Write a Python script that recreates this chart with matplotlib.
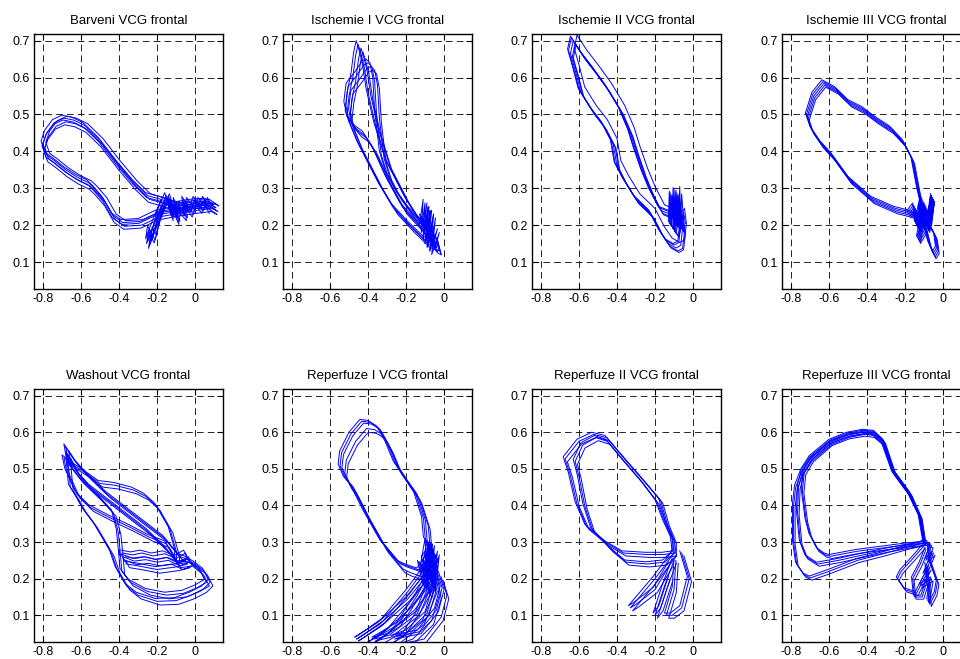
import numpy as np
import matplotlib
matplotlib.use("Agg")
import matplotlib.pyplot as plt

plt.rcParams["font.family"] = ["Liberation Sans", "DejaVu Sans"]

titles = ["Barveni VCG frontal", "Ischemie I VCG frontal", "Ischemie II VCG frontal",
          "Ischemie III VCG frontal", "Washout VCG frontal", "Reperfuze I VCG frontal",
          "Reperfuze II VCG frontal", "Reperfuze III VCG frontal"]

x_ticks = [-0.8, -0.6, -0.4, -0.2, 0]
x_labels = ["-0.8", "-0.6", "-0.4", "-0.2", "0"]
y_ticks = [0.1, 0.2, 0.3, 0.4, 0.5, 0.6, 0.7]
y_labels = ["0.1", "0.2", "0.3", "0.4", "0.5", "0.6", "0.7"]

# --- Barveni ---
bar_x = [-0.10, -0.18, -0.25, -0.32, -0.41, -0.50, -0.58, -0.64, -0.69, -0.74, -0.78, -0.80, -0.78, -0.74, -0.68,
         -0.62, -0.56, -0.53, -0.48, -0.43, -0.38, -0.29, -0.20, -0.10, 0.00, 0.08, 0.11, 0.06, -0.02, -0.10]
bar_y = [0.255, 0.27, 0.28, 0.315, 0.37, 0.43, 0.47, 0.485, 0.49, 0.478, 0.45, 0.42, 0.39, 0.375, 0.35,
         0.33, 0.315, 0.30, 0.27, 0.225, 0.207, 0.21, 0.232, 0.242, 0.25, 0.255, 0.247, 0.265, 0.262, 0.255]
bar_tail_x = [-0.17, -0.21, -0.25, -0.24, -0.22, -0.19, -0.15, -0.12, -0.13, -0.09, -0.10, -0.05, -0.06, -0.02, 0.00, 0.03, 0.05, 0.07]
bar_tail_y = [0.26, 0.21, 0.155, 0.19, 0.17, 0.23, 0.28, 0.23, 0.27, 0.22, 0.26, 0.23, 0.27, 0.24, 0.27, 0.25, 0.27, 0.25]
bar_dx = [0, 0.01, -0.01, 0.005, 0.015, -0.005]
bar_dy = [0, -0.01, 0.008, -0.018, 0.005, -0.005]

# --- Ischemie I ---
isc1_ax = [-0.10, -0.18, -0.25, -0.30, -0.33, -0.355, -0.365, -0.38, -0.40, -0.42, -0.46, -0.505,
           -0.517, -0.50, -0.46, -0.42, -0.37, -0.30, -0.22, -0.13, -0.06, -0.04, -0.06, -0.10]
isc1_ay = [0.20, 0.24, 0.29, 0.34, 0.39, 0.50, 0.59, 0.63, 0.64, 0.635, 0.605, 0.575,
           0.525, 0.485, 0.46, 0.445, 0.405, 0.325, 0.25, 0.20, 0.145, 0.14, 0.18, 0.20]
isc1_bx = [-0.06, -0.10, -0.20, -0.30, -0.36, -0.40, -0.42, -0.44, -0.452, -0.465, -0.48, -0.50, -0.51,
           -0.49, -0.45, -0.40, -0.34, -0.27, -0.18, -0.10, -0.06]
isc1_by = [0.15, 0.19, 0.27, 0.37, 0.47, 0.56, 0.63, 0.67, 0.69, 0.66, 0.60, 0.55, 0.50,
           0.47, 0.42, 0.37, 0.31, 0.25, 0.20, 0.16, 0.15]
isc1_cl_x = [-0.12, -0.10, -0.11, -0.08, -0.10, -0.07, -0.09, -0.05, -0.07, -0.12, -0.06, -0.04]
isc1_cl_y = [0.19, 0.26, 0.17, 0.25, 0.15, 0.24, 0.14, 0.20, 0.16, 0.22, 0.18, 0.14]
isc1_dx = [0, 0.015, -0.01, 0.025]
isc1_dy = [0, -0.01, 0.01, -0.02]

# --- Ischemie II ---
isc2_x = [-0.08, -0.10, -0.17, -0.22, -0.26, -0.30, -0.33, -0.38, -0.45, -0.52, -0.58, -0.63, -0.645, -0.62, -0.59,
          -0.53, -0.47, -0.42, -0.40, -0.36, -0.30, -0.22, -0.17, -0.13, -0.09, -0.065, -0.055, -0.065, -0.08]
isc2_y = [0.22, 0.225, 0.24, 0.29, 0.34, 0.40, 0.45, 0.51, 0.57, 0.62, 0.66, 0.70, 0.665, 0.62, 0.56,
          0.51, 0.47, 0.42, 0.36, 0.32, 0.27, 0.23, 0.18, 0.15, 0.138, 0.145, 0.19, 0.23, 0.22]
isc2_hook_x = [-0.07, -0.08, -0.085, -0.09, -0.095, -0.10, -0.105, -0.11, -0.115, -0.09, -0.07, -0.06]
isc2_hook_y = [0.20, 0.27, 0.20, 0.29, 0.21, 0.27, 0.19, 0.28, 0.20, 0.18, 0.22, 0.19]
isc2_dx = [0, -0.01, 0.01, -0.015, 0.015, 0.02]
isc2_dy = [0, 0.008, -0.008, 0.012, -0.012, 0.015]

# --- Ischemie III ---
isc3_x = [-0.13, -0.12, -0.14, -0.17, -0.215, -0.28, -0.36, -0.43, -0.50, -0.57, -0.637, -0.69, -0.724,
          -0.70, -0.65, -0.59, -0.50, -0.38, -0.26, -0.19, -0.13]
isc3_y = [0.23, 0.26, 0.305, 0.387, 0.432, 0.468, 0.495, 0.522, 0.54, 0.575, 0.594, 0.56, 0.504,
          0.468, 0.43, 0.396, 0.332, 0.278, 0.251, 0.242, 0.23]
isc3_lobe_x = [-0.13, -0.10, -0.07, -0.05, -0.04, -0.057, -0.083, -0.10, -0.12]
isc3_lobe_y = [0.23, 0.22, 0.20, 0.18, 0.143, 0.129, 0.161, 0.197, 0.23]
isc3_cl_x = [-0.19, -0.16, -0.15, -0.12, -0.14, -0.10, -0.09, -0.065, -0.08, -0.14, -0.11]
isc3_cl_y = [0.24, 0.26, 0.21, 0.28, 0.20, 0.26, 0.20, 0.285, 0.22, 0.17, 0.25]
isc3_dx = [0, 0.01, 0.02, 0.005, 0.015]
isc3_dy = [0, -0.01, -0.02, -0.005, -0.015]

# --- Washout ---
wash_ax = [-0.10, -0.096, -0.131, -0.20, -0.26, -0.324, -0.42, -0.50, -0.58, -0.64, -0.69, -0.675, -0.62,
           -0.55, -0.45, -0.34, -0.24, -0.15, -0.10]
wash_ay = [0.25, 0.27, 0.334, 0.397, 0.425, 0.442, 0.455, 0.46, 0.49, 0.51, 0.53, 0.493, 0.43,
           0.394, 0.367, 0.34, 0.313, 0.295, 0.25]
wash_bx = [-0.08, -0.16, -0.26, -0.36, -0.46, -0.56, -0.63, -0.68, -0.67, -0.656, -0.62, -0.586, -0.53, -0.481,
           -0.44, -0.411, -0.36, -0.30, -0.20, -0.10, -0.02, 0.044, 0.079, 0.05, 0.0, -0.05, -0.08]
wash_by = [0.26, 0.31, 0.35, 0.39, 0.43, 0.48, 0.52, 0.56, 0.53, 0.45, 0.42, 0.388, 0.35, 0.307,
           0.27, 0.226, 0.18, 0.155, 0.138, 0.14, 0.155, 0.172, 0.19, 0.22, 0.24, 0.255, 0.26]
wash_cx = [-0.09, -0.15, -0.25, -0.35, -0.45, -0.55, -0.62, -0.67, -0.66, -0.60, -0.50, -0.43, -0.405, -0.395,
           -0.385, -0.34, -0.25, -0.15, -0.06, 0.01, 0.06, 0.03, -0.03, -0.09]
wash_cy = [0.24, 0.28, 0.33, 0.37, 0.41, 0.45, 0.49, 0.54, 0.51, 0.47, 0.42, 0.38, 0.33, 0.28,
           0.22, 0.19, 0.165, 0.155, 0.16, 0.175, 0.19, 0.22, 0.245, 0.24]
wash_band_x = [-0.38, -0.33, -0.28, -0.22, -0.16, -0.10, -0.05, -0.03, -0.08, -0.14, -0.20, -0.26, -0.32, -0.38,
               -0.36, -0.30, -0.20, -0.10, -0.04]
wash_band_y = [0.27, 0.265, 0.27, 0.262, 0.268, 0.255, 0.27, 0.245, 0.235, 0.25, 0.245, 0.252, 0.248, 0.26,
               0.24, 0.235, 0.225, 0.232, 0.24]
wash_dx = [0, 0.015, -0.01]
wash_dy = [0, -0.01, 0.008]

# --- Reperfuze I ---
rep1_x = [-0.10, -0.083, -0.109, -0.118, -0.162, -0.215, -0.268, -0.31, -0.355, -0.40, -0.443, -0.50, -0.549,
          -0.557, -0.53, -0.496, -0.426, -0.338, -0.25, -0.215, -0.144, -0.10]
rep1_y = [0.26, 0.288, 0.315, 0.369, 0.441, 0.48, 0.522, 0.575, 0.617, 0.632, 0.635, 0.60, 0.549,
          0.513, 0.48, 0.459, 0.387, 0.306, 0.251, 0.242, 0.229, 0.26]
rep1_l1x = [-0.09, -0.20, -0.35, -0.47, -0.44, -0.33, -0.20, -0.10]
rep1_l1y = [0.22, 0.15, 0.08, 0.04, 0.05, 0.09, 0.17, 0.24]
rep1_l2x = [-0.09, -0.15, -0.25, -0.38, -0.30, -0.15, -0.08]
rep1_l2y = [0.22, 0.16, 0.08, 0.04, 0.05, 0.11, 0.20]
rep1_l3x = [-0.08, -0.06, -0.10, -0.20, -0.28, -0.14, -0.05, -0.02, -0.05]
rep1_l3y = [0.24, 0.18, 0.11, 0.06, 0.045, 0.06, 0.12, 0.18, 0.23]
rep1_cl_x = [-0.13, -0.10, -0.09, -0.07, -0.10, -0.08, -0.12, -0.09, -0.14, -0.11, -0.08]
rep1_cl_y = [0.22, 0.31, 0.20, 0.30, 0.24, 0.29, 0.26, 0.21, 0.25, 0.18, 0.27]
rep1_dx = [0, 0.02, 0.035, 0.01, 0.045]
rep1_dy = [0, -0.01, -0.025, -0.005, -0.035]

# --- Reperfuze II ---
rep2_ax = [-0.10, -0.10, -0.136, -0.171, -0.259, -0.365, -0.453, -0.523, -0.60, -0.673, -0.647, -0.611, -0.559,
           -0.453, -0.365, -0.241, -0.153, -0.10]
rep2_ay = [0.27, 0.306, 0.351, 0.414, 0.468, 0.531, 0.585, 0.594, 0.575, 0.527, 0.486, 0.405, 0.342,
           0.297, 0.27, 0.266, 0.266, 0.27]
rep2_bx = [-0.10, -0.11, -0.15, -0.19, -0.27, -0.37, -0.45, -0.51, -0.58, -0.62, -0.60, -0.57, -0.53,
           -0.43, -0.35, -0.24, -0.15, -0.10]
rep2_by = [0.27, 0.31, 0.355, 0.41, 0.465, 0.525, 0.575, 0.585, 0.565, 0.52, 0.48, 0.40, 0.335,
           0.28, 0.245, 0.24, 0.245, 0.27]
rep2_l1x = [-0.10, -0.20, -0.33, -0.30, -0.20, -0.12]
rep2_l1y = [0.27, 0.20, 0.12, 0.13, 0.17, 0.24]
rep2_l2x = [-0.10, -0.15, -0.20, -0.17, -0.12]
rep2_l2y = [0.25, 0.18, 0.10, 0.12, 0.20]
rep2_l3x = [-0.09, -0.10, -0.14, -0.11, -0.06, -0.02, -0.06]
rep2_l3y = [0.25, 0.17, 0.10, 0.10, 0.12, 0.20, 0.27]
rep2_dx = [0, 0.012, -0.01]
rep2_dy = [0, -0.008, 0.006]

# --- Reperfuze III ---
rep3_ax = [-0.10, -0.10, -0.118, -0.171, -0.259, -0.311, -0.36, -0.417, -0.50, -0.593, -0.698, -0.742, -0.775,
           -0.786, -0.786, -0.77, -0.73, -0.698, -0.60, -0.45, -0.30, -0.20, -0.10]
rep3_ay = [0.297, 0.306, 0.369, 0.432, 0.495, 0.576, 0.600, 0.603, 0.595, 0.576, 0.531, 0.495, 0.45,
           0.40, 0.30, 0.24, 0.21, 0.202, 0.22, 0.25, 0.27, 0.285, 0.297]
rep3_bx = [-0.10, -0.105, -0.125, -0.18, -0.265, -0.32, -0.37, -0.42, -0.50, -0.59, -0.69, -0.73, -0.74,
           -0.72, -0.70, -0.66, -0.62, -0.593, -0.45, -0.30, -0.20, -0.10]
rep3_by = [0.297, 0.31, 0.37, 0.43, 0.49, 0.57, 0.592, 0.595, 0.588, 0.57, 0.525, 0.49, 0.44,
           0.36, 0.32, 0.28, 0.265, 0.261, 0.275, 0.285, 0.292, 0.297]
rep3_cx = [-0.10, -0.10, -0.12, -0.175, -0.26, -0.315, -0.365, -0.42, -0.50, -0.59, -0.695, -0.74, -0.76,
           -0.765, -0.75, -0.72, -0.66, -0.55, -0.42, -0.30, -0.20, -0.10]
rep3_cy = [0.297, 0.306, 0.37, 0.43, 0.493, 0.575, 0.598, 0.600, 0.592, 0.573, 0.528, 0.493, 0.45,
           0.38, 0.30, 0.26, 0.24, 0.25, 0.265, 0.278, 0.288, 0.297]
rep3_l1x = [-0.10, -0.15, -0.22, -0.24, -0.20, -0.14, -0.10]
rep3_l1y = [0.29, 0.26, 0.22, 0.20, 0.17, 0.16, 0.20]
rep3_l2x = [-0.09, -0.12, -0.16, -0.15, -0.11, -0.08]
rep3_l2y = [0.28, 0.24, 0.20, 0.15, 0.15, 0.20]
rep3_l3x = [-0.08, -0.07, -0.05, -0.03, -0.04, -0.07, -0.075, -0.09]
rep3_l3y = [0.30, 0.25, 0.22, 0.19, 0.16, 0.13, 0.17, 0.24]
rep3_cl_x = [-0.11, -0.06, -0.09, -0.05, -0.10, -0.07, -0.12, -0.06, -0.08]
rep3_cl_y = [0.30, 0.29, 0.25, 0.27, 0.21, 0.23, 0.18, 0.20, 0.14]
rep3_dx = [0, 0.008, -0.006]
rep3_dy = [0, -0.006, 0.005]

panels = [
    ([(bar_x, bar_y), (bar_tail_x, bar_tail_y)], bar_dx, bar_dy),
    ([(isc1_ax, isc1_ay), (isc1_bx, isc1_by), (isc1_cl_x, isc1_cl_y)], isc1_dx, isc1_dy),
    ([(isc2_x, isc2_y), (isc2_hook_x, isc2_hook_y)], isc2_dx, isc2_dy),
    ([(isc3_x, isc3_y), (isc3_lobe_x, isc3_lobe_y), (isc3_cl_x, isc3_cl_y)], isc3_dx, isc3_dy),
    ([(wash_ax, wash_ay), (wash_bx, wash_by), (wash_cx, wash_cy), (wash_band_x, wash_band_y)], wash_dx, wash_dy),
    ([(rep1_x, rep1_y), (rep1_l1x, rep1_l1y), (rep1_l2x, rep1_l2y), (rep1_l3x, rep1_l3y),
      (rep1_cl_x, rep1_cl_y)], rep1_dx, rep1_dy),
    ([(rep2_ax, rep2_ay), (rep2_bx, rep2_by), (rep2_l1x, rep2_l1y), (rep2_l2x, rep2_l2y),
      (rep2_l3x, rep2_l3y)], rep2_dx, rep2_dy),
    ([(rep3_ax, rep3_ay), (rep3_bx, rep3_by), (rep3_cx, rep3_cy), (rep3_l1x, rep3_l1y), (rep3_l2x, rep3_l2y),
      (rep3_l3x, rep3_l3y), (rep3_cl_x, rep3_cl_y)], rep3_dx, rep3_dy),
]

W, H = 960, 659
fig = plt.figure(figsize=(W / 100, H / 100), dpi=100)
fig.patch.set_facecolor("white")

lefts = [34, 283, 532, 782]
rows = [(34, 289), (389, 642)]
aw = 189

for i, (curves, dxs, dys) in enumerate(panels):
    r, c = divmod(i, 4)
    top, bot = rows[r]
    ax = fig.add_axes([lefts[c] / W, (H - bot) / H, aw / W, (bot - top) / H])
    for cx, cy in curves:
        cx = np.array(cx)
        cy = np.array(cy)
        for dx, dy in zip(dxs, dys):
            ax.plot(cx + dx, cy + dy, color=(0, 0, 1), lw=0.7)
    ax.set_xlim(-0.847, 0.147)
    ax.set_ylim(0.027, 0.718)
    ax.set_xticks(x_ticks)
    ax.set_xticklabels(x_labels)
    ax.set_yticks(y_ticks)
    ax.set_yticklabels(y_labels)
    ax.tick_params(direction="in", length=4, width=0.8, top=True, right=True,
                   labelsize=9, pad=3, colors="black")
    ax.grid(True, color="black", lw=0.6, linestyle=(0, (8, 5)))
    for s in ax.spines.values():
        s.set_linewidth(1.0)
    ax.set_title(titles[i], fontsize=9.5, pad=7)

fig.savefig("out.png", dpi=100)
